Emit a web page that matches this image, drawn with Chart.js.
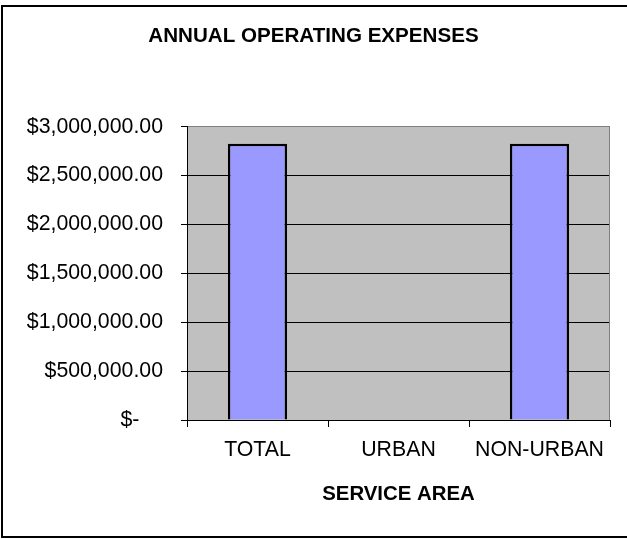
<!DOCTYPE html>
<html>
<head>
<meta charset="utf-8">
<script src="https://cdn.jsdelivr.net/npm/chart.js@4/dist/chart.umd.min.js"></script>
<style>
    html, body { margin: 0; padding: 0; background: #fff; }
    canvas { display: block; }
</style>
</head>
<body>
<canvas id="chart" width="627" height="539"></canvas>
<script>
// === DATEN ===
const categories = ['TOTAL', 'URBAN', 'NON-URBAN'];
const expenses = [2825000, 0, 2825000];
const yTicks = [0, 500000, 1000000, 1500000, 2000000, 2500000, 3000000];

const FONT = '"Liberation Sans", Arial, sans-serif';

// Geld-Format wie in Excel (Buchhaltung)
function formatMoney(value) {
    if (value === 0) return '$-    ';
    return '$' + value.toLocaleString('en-US', { minimumFractionDigits: 2, maximumFractionDigits: 2 });
}

// Grauer Plotbereich + Rahmen
const framePlugin = {
    id: 'frame',
    beforeDraw(chart) {
        const { ctx, chartArea: a } = chart;
        ctx.save();
        ctx.fillStyle = '#C0C0C0';
        ctx.fillRect(a.left, a.top, a.right - a.left, a.bottom - a.top);
        ctx.restore();
    },
    beforeDatasetsDraw(chart) {
        const { ctx, chartArea: a } = chart;
        ctx.save();
        ctx.strokeStyle = '#808080';
        ctx.lineWidth = 1;
        ctx.beginPath();
        ctx.moveTo(a.right - 0.5, a.top);
        ctx.lineTo(a.right - 0.5, a.bottom);
        ctx.stroke();
        ctx.restore();
    },
    afterDraw(chart) {
        const { ctx } = chart;
        ctx.save();
        ctx.strokeStyle = '#000';
        ctx.lineWidth = 2;
        ctx.strokeRect(2, 6, 660, 531);
        ctx.restore();
    }
};

new Chart(document.getElementById('chart'), {
    type: 'bar',
    data: {
        labels: categories,
        datasets: [{
            data: expenses,
            backgroundColor: '#9999FF',
            borderColor: '#000',
            borderWidth: 2.5,
            barPercentage: 0.42,
            categoryPercentage: 1
        }]
    },
    options: {
        responsive: false,
        animation: false,
        devicePixelRatio: 1,
        layout: { padding: 0 },
        plugins: {
            legend: { display: false },
            tooltip: { enabled: false },
            title: {
                display: true,
                text: 'ANNUAL OPERATING EXPENSES',
                color: '#000',
                font: { family: FONT, size: 20.6, weight: 'bold' },
                padding: { top: 24, bottom: 78 }
            }
        },
        scales: {
            x: {
                grid: {
                    offset: true,
                    drawOnChartArea: false,
                    drawTicks: true,
                    tickLength: 7,
                    color: '#000',
                    lineWidth: 1
                },
                border: { color: '#000', width: 1 },
                ticks: {
                    color: '#000',
                    padding: 10,
                    font: { family: FONT, size: 21.3 }
                },
                title: {
                    display: true,
                    text: 'SERVICE AREA',
                    color: '#000',
                    font: { family: FONT, size: 20.4, weight: 'bold' },
                    padding: { top: 0, bottom: 32 }
                },
                afterFit(scale) { scale.height = 119; }
            },
            y: {
                min: 0,
                max: 3000000,
                afterBuildTicks(scale) {
                    scale.ticks = yTicks.map(v => ({ value: v }));
                },
                grid: {
                    color: ctx => (ctx.tick && ctx.tick.value === 3000000) ? '#808080' : '#000',
                    tickColor: '#000',
                    tickLength: 6,
                    lineWidth: 1
                },
                border: { color: '#000', width: 1 },
                ticks: {
                    color: '#000',
                    padding: 18,
                    font: { family: FONT, size: 21.3 },
                    callback: value => formatMoney(value)
                },
                afterFit(scale) { scale.width = 187; }
            },
            yRight: {
                position: 'right',
                display: true,
                grid: { display: false },
                border: { display: false },
                ticks: { display: false },
                afterFit(scale) { scale.width = 17; }
            }
        }
    },
    plugins: [framePlugin]
});
</script>
</body>
</html>
